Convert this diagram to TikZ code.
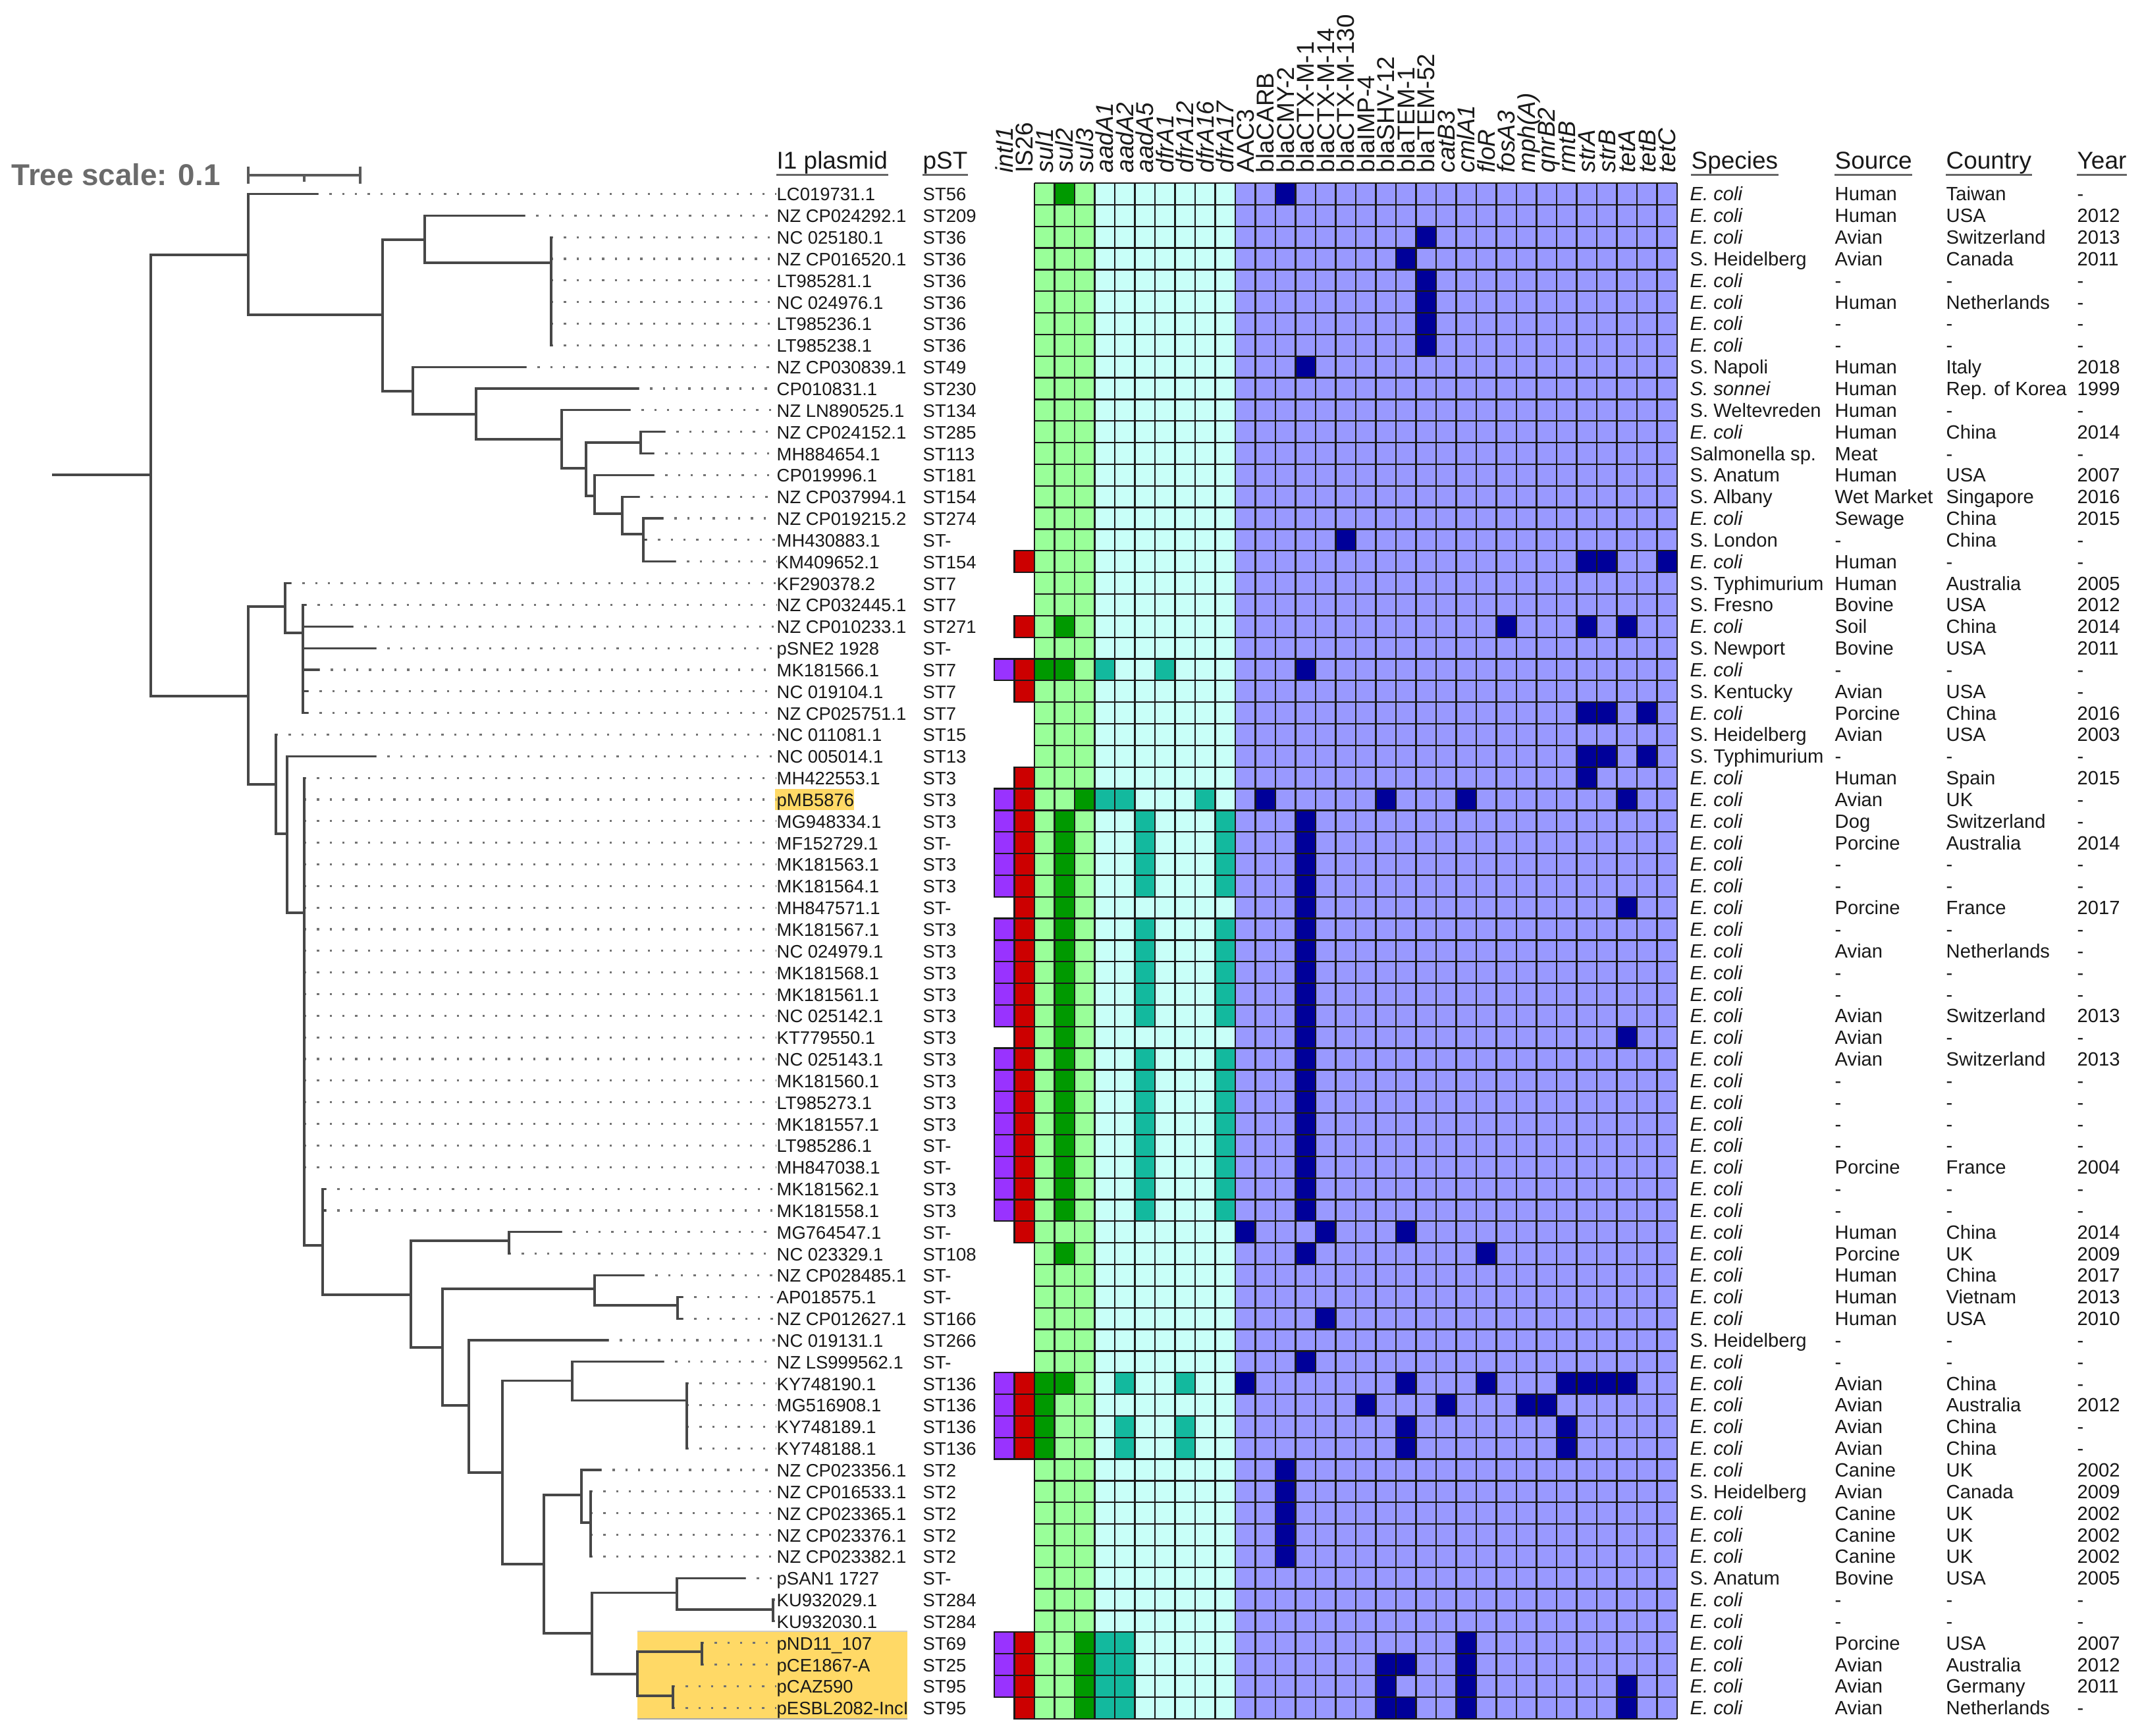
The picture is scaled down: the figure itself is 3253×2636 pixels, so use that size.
\documentclass[tikz,border=0pt]{standalone}
\usepackage{fontspec}
\setmainfont{Liberation Sans}
\definecolor{cPur}{HTML}{9933FF}
\definecolor{cRed}{HTML}{CC0000}
\definecolor{cLG}{HTML}{99FF99}
\definecolor{cDG}{HTML}{009900}
\definecolor{cLC}{HTML}{C8FFF8}
\definecolor{cTe}{HTML}{13B99E}
\definecolor{cLav}{HTML}{9999FF}
\definecolor{cNav}{HTML}{000099}
\definecolor{cYel}{HTML}{FFD966}
\newcommand{\RY}[1]{261.6+32.84*(#1)}
\newcommand{\ec}{\textit{E. coli}}
\newcommand{\hmc}[3]{\fill[#3] ({1510+(#2-1)*30.5},{278+(#1-1)*32.84}) rectangle ++(30.5,32.84);}
\newcommand{\hmb}[3]{\filldraw[fill=#3, draw=black!90, line width=0.65pt] ({1510+(#2-1)*30.5},{278+(#1-1)*32.84}) rectangle ++(30.5,32.84);}
\tikzset{
 trln/.style={draw=black!72, line width=0.9pt, line cap=rect},
 leadln/.style={draw=black!55, line width=0.9pt, dash pattern=on 0.9pt off 4.6pt},
 hmgrid/.style={draw=black!90, line width=0.65pt},
 rlab/.style={inner sep=0pt, anchor=base west, font=\fontsize{7.8}{9}\selectfont, text=black!90},
 metatx/.style={inner sep=0pt, anchor=base west, font=\fontsize{8.3}{10}\selectfont, text=black!90},
 hdrtx/.style={inner sep=0pt, anchor=base west, font=\fontsize{10.5}{12}\selectfont, text=black!90},
 genetx/.style={inner sep=0pt, anchor=base west, rotate=90, font=\fontsize{10.5}{12}\selectfont, text=black!90},
 uline/.style={draw=black!60, line width=0.8pt},
}
\begin{document}
\begin{tikzpicture}[x=0.01cm,y=-0.01cm]
\useasboundingbox (0,0) rectangle (3253,2636);
\fill[white] (0,0) rectangle (3253,2636);

% highlight boxes
\fill[cYel] (968,2477) rectangle (1378,2610);
\draw[draw=black!35, line width=0.5pt] (968,2610) -- (1378,2610);
\draw[draw=black!20, line width=0.4pt] (968,2477) -- (1378,2477);
\fill[cYel] (1177,1198) rectangle (1297,1230);

% tree scale
\node[inner sep=0pt, anchor=base west, font=\fontsize{13}{15}\selectfont\bfseries, text=black!58] (ts) at (17,281) {Tree scale: 0.1};
\coordinate (sbL) at (377,266);
\coordinate (sbR) at (547,266);
\coordinate (sbM) at (462,266);
\draw[draw=black!65, line width=0.9pt] (sbL) -- (sbR);
\draw[draw=black!65, line width=0.9pt] ([yshift=3.8pt]sbL) -- ([yshift=-3.8pt]sbL);
\draw[draw=black!65, line width=0.9pt] ([yshift=3.8pt]sbR) -- ([yshift=-3.8pt]sbR);
\draw[draw=black!65, line width=0.9pt] (sbM) -- ([yshift=-2.8pt]sbM);

% headers
\node[hdrtx] (h1) at (1179,256) {I1 plasmid};
\node[hdrtx] (h2) at (1401,256) {pST};
\node[hdrtx] (h3) at (2568,256) {Species};
\node[hdrtx] (h4) at (2786,256) {Source};
\node[hdrtx] (h5) at (2955,256) {Country};
\node[hdrtx] (h6) at (3154,256) {Year};
\foreach \h in {1,...,6} \draw[uline] ([yshift=-2.6pt]h\h.base west) -- ([yshift=-2.6pt]h\h.base east);

% gene labels
\foreach \g [count=\k] in {\textit{intI1},IS26,\textit{sul1},\textit{sul2},\textit{sul3},\textit{aadA1},\textit{aadA2},\textit{aadA5},\textit{dfrA1},\textit{dfrA12},\textit{dfrA16},\textit{dfrA17},AAC3,blaCARB,blaCMY-2,blaCTX-M-1,blaCTX-M-14,blaCTX-M-130,blaIMP-4,blaSHV-12,blaTEM-1,blaTEM-52,\textit{catB3},\textit{cmlA1},\textit{floR},\textit{fosA3},\textit{mph(A)},\textit{qnrB2},\textit{rmtB},\textit{strA},\textit{strB},\textit{tetA},\textit{tetB},\textit{tetC}}
  \node[genetx] (g\k) at ({1525.25+(\k-1)*30.5+13},263) {\g};

% heatmap backgrounds
\fill[cLG] (1571,278) rectangle (1662.5,2609.64);
\fill[cLC] (1662.5,278) rectangle (1876,2609.64);
\fill[cLav] (1876,278) rectangle (2547,2609.64);

% dark green
\foreach \r/\k in {1/4,21/4,23/3,23/4,29/5,50/4,56/3,56/4,57/3,58/3,59/3,68/5,69/5,70/5,71/5} {\hmc{\r}{\k}{cDG}}
\foreach \r in {30,...,48} {\hmc{\r}{4}{cDG}}
% teal
\foreach \r/\k in {23/6,23/9,29/6,29/7,29/11,56/7,56/10,58/7,58/10,59/7,59/10,68/6,68/7,69/6,69/7,70/6,70/7,71/6,71/7} {\hmc{\r}{\k}{cTe}}
\foreach \r in {30,31,32,33,35,36,37,38,39,41,42,43,44,45,46,47,48} {\hmc{\r}{8}{cTe}\hmc{\r}{12}{cTe}}
% navy
\foreach \r/\ks in {1/{15},3/{22},4/{21},5/{22},6/{22},7/{22},8/{22},9/{16},17/{18},18/{30,31,34},21/{26,30,32},23/{16},25/{30,31,33},27/{30,31,33},28/{30},29/{14,20,24,32},34/{32},40/{32},49/{13,17,21},50/{16,25},53/{17},55/{16},56/{13,21,25,29,30,31,32},57/{19,23,27,28},58/{21,29},59/{21,29},60/{15},61/{15},62/{15},63/{15},64/{15},68/{24},69/{20,21,24},70/{20,24,32},71/{20,21,24,32}} {\foreach \k in \ks {\hmc{\r}{\k}{cNav}}}
\foreach \r in {30,...,48} {\hmc{\r}{16}{cNav}}

% grid
\foreach \j in {0,...,32} \draw[hmgrid] ({1571+\j*30.5},278) -- ({1571+\j*30.5},2609.64);
\foreach \i in {0,...,71} \draw[hmgrid] (1571,{278+\i*32.84}) -- (2547,{278+\i*32.84});

% intI1 and IS26
\foreach \r in {23,29,30,31,32,33,35,36,37,38,39,41,42,43,44,45,46,47,48,56,57,58,59,68,69,70} {\hmb{\r}{1}{cPur}}
\foreach \r in {18,21,23,24,28,29,30,31,32,33,34,35,36,37,38,39,40,41,42,43,44,45,46,47,48,49,56,57,58,59,68,69,70,71} {\hmb{\r}{2}{cRed}}

% row labels
\foreach \lab/\st [count=\i] in {LC019731.1/ST56,NZ CP024292.1/ST209,NC 025180.1/ST36,NZ CP016520.1/ST36,LT985281.1/ST36,NC 024976.1/ST36,LT985236.1/ST36,LT985238.1/ST36,NZ CP030839.1/ST49,CP010831.1/ST230,NZ LN890525.1/ST134,NZ CP024152.1/ST285,MH884654.1/ST113,CP019996.1/ST181,NZ CP037994.1/ST154,NZ CP019215.2/ST274,MH430883.1/ST-,KM409652.1/ST154,KF290378.2/ST7,NZ CP032445.1/ST7,NZ CP010233.1/ST271,pSNE2 1928/ST-,MK181566.1/ST7,NC 019104.1/ST7,NZ CP025751.1/ST7,NC 011081.1/ST15,NC 005014.1/ST13,MH422553.1/ST3,pMB5876/ST3,MG948334.1/ST3,MF152729.1/ST-,MK181563.1/ST3,MK181564.1/ST3,MH847571.1/ST-,MK181567.1/ST3,NC 024979.1/ST3,MK181568.1/ST3,MK181561.1/ST3,NC 025142.1/ST3,KT779550.1/ST3,NC 025143.1/ST3,MK181560.1/ST3,LT985273.1/ST3,MK181557.1/ST3,LT985286.1/ST-,MH847038.1/ST-,MK181562.1/ST3,MK181558.1/ST3,MG764547.1/ST-,NC 023329.1/ST108,NZ CP028485.1/ST-,AP018575.1/ST-,NZ CP012627.1/ST166,NC 019131.1/ST266,NZ LS999562.1/ST-,KY748190.1/ST136,MG516908.1/ST136,KY748189.1/ST136,KY748188.1/ST136,NZ CP023356.1/ST2,NZ CP016533.1/ST2,NZ CP023365.1/ST2,NZ CP023376.1/ST2,NZ CP023382.1/ST2,pSAN1 1727/ST-,KU932029.1/ST284,KU932030.1/ST284,pND11\_107/ST69,pCE1867-A/ST25,pCAZ590/ST95,pESBL2082-IncI/ST95}
{
  \node[rlab] (l\i) at (1179,{\RY{\i}+10.5}) {\lab};
  \node[rlab] (st\i) at (1401,{\RY{\i}+10.5}) {\st};
}

% metadata
\foreach \sp/\so/\co/\yr [count=\i] in {\ec/Human/Taiwan/-,\ec/Human/USA/2012,\ec/Avian/Switzerland/2013,S. Heidelberg/Avian/Canada/2011,\ec/-/-/-,\ec/Human/Netherlands/-,\ec/-/-/-,\ec/-/-/-,S. Napoli/Human/Italy/2018,\textit{S. sonnei}/Human/Rep. of Korea/1999,S. Weltevreden/Human/-/-,\ec/Human/China/2014,Salmonella sp./Meat/-/-,S. Anatum/Human/USA/2007,S. Albany/Wet Market/Singapore/2016,\ec/Sewage/China/2015,S. London/-/China/-,\ec/Human/-/-,S. Typhimurium/Human/Australia/2005,S. Fresno/Bovine/USA/2012,\ec/Soil/China/2014,S. Newport/Bovine/USA/2011,\ec/-/-/-,S. Kentucky/Avian/USA/-,\ec/Porcine/China/2016,S. Heidelberg/Avian/USA/2003,S. Typhimurium/-/-/-,\ec/Human/Spain/2015,\ec/Avian/UK/-,\ec/Dog/Switzerland/-,\ec/Porcine/Australia/2014,\ec/-/-/-,\ec/-/-/-,\ec/Porcine/France/2017,\ec/-/-/-,\ec/Avian/Netherlands/-,\ec/-/-/-,\ec/-/-/-,\ec/Avian/Switzerland/2013,\ec/Avian/-/-,\ec/Avian/Switzerland/2013,\ec/-/-/-,\ec/-/-/-,\ec/-/-/-,\ec/-/-/-,\ec/Porcine/France/2004,\ec/-/-/-,\ec/-/-/-,\ec/Human/China/2014,\ec/Porcine/UK/2009,\ec/Human/China/2017,\ec/Human/Vietnam/2013,\ec/Human/USA/2010,S. Heidelberg/-/-/-,\ec/-/-/-,\ec/Avian/China/-,\ec/Avian/Australia/2012,\ec/Avian/China/-,\ec/Avian/China/-,\ec/Canine/UK/2002,S. Heidelberg/Avian/Canada/2009,\ec/Canine/UK/2002,\ec/Canine/UK/2002,\ec/Canine/UK/2002,S. Anatum/Bovine/USA/2005,\ec/-/-/-,\ec/-/-/-,\ec/Porcine/USA/2007,\ec/Avian/Australia/2012,\ec/Avian/Germany/2011,\ec/Avian/Netherlands/-}
{
  \node[metatx] (sp\i) at (2566,{\RY{\i}+10.5}) {\sp};
  \node[metatx] (so\i) at (2786,{\RY{\i}+10.5}) {\so};
  \node[metatx] (co\i) at (2955,{\RY{\i}+10.5}) {\co};
  \node[metatx] (yr\i) at (3154,{\RY{\i}+10.5}) {\yr};
}

% leaf tips
\foreach \i/\tx in {1/481,2/795,3/837,4/837,5/837,6/837,7/837,8/837,9/797,10/968,11/955,12/1008,13/991,14/991,15/969,16/1005,17/980,18/1024,19/440,20/463,21/534,22/569,23/483,24/466,25/466,26/419,27/569,47/493,48/493,49/851,50/773,51/976,52/1035,53/1035,54/922,55/1006,56/1043,57/1043,58/1043,59/1043,60/911,61/897,62/897,63/897,64/897,65/1130,66/1174,67/1174,68/1066,69/1066,70/1022,71/1022}
  \coordinate (t\i) at (\tx,{\RY{\i}});
\foreach \i in {28,...,46} \coordinate (t\i) at (462,{\RY{\i}});

% leaders
\foreach \i in {1,...,71} \draw[leadln] (t\i) -- (l\i.west |- t\i);

% tree: upper clade
\draw[trln] (81,721) -- (229,721);
\draw[trln] (229,387) -- (229,1057);
\draw[trln] (229,387) -- (377,387);
\draw[trln] (377,{\RY{1}}) -- (377,478);
\draw[trln] (377,{\RY{1}}) -- (t1);
\draw[trln] (377,478) -- (581,478);
\draw[trln] (581,364) -- (581,594);
\draw[trln] (581,364) -- (645,364);
\draw[trln] (645,{\RY{2}}) -- (645,399);
\draw[trln] (645,{\RY{2}}) -- (t2);
\draw[trln] (645,399) -- (837,399);
\draw[trln] (t3) -- (t8);
\draw[trln] (581,594) -- (627,594);
\draw[trln] (627,{\RY{9}}) -- (627,629);
\draw[trln] (627,{\RY{9}}) -- (t9);
\draw[trln] (627,629) -- (723,629);
\draw[trln] (723,{\RY{10}}) -- (723,667);
\draw[trln] (723,{\RY{10}}) -- (t10);
\draw[trln] (723,667) -- (853,667);
\draw[trln] (853,{\RY{11}}) -- (853,711);
\draw[trln] (853,{\RY{11}}) -- (t11);
\draw[trln] (853,711) -- (890,711);
\draw[trln] (890,672) -- (890,753);
\draw[trln] (890,672) -- (973,672);
\draw[trln] (973,{\RY{12}}) -- (973,{\RY{13}});
\draw[trln] (973,{\RY{12}}) -- (t12);
\draw[trln] (973,{\RY{13}}) -- (t13);
\draw[trln] (890,753) -- (903,753);
\draw[trln] (903,{\RY{14}}) -- (903,780);
\draw[trln] (903,{\RY{14}}) -- (t14);
\draw[trln] (903,780) -- (945,780);
\draw[trln] (945,{\RY{15}}) -- (945,811);
\draw[trln] (945,{\RY{15}}) -- (t15);
\draw[trln] (945,811) -- (977,811);
\draw[trln] (977,{\RY{16}}) -- (977,{\RY{18}});
\draw[trln] (977,{\RY{16}}) -- (t16);
\draw[trln] (977,{\RY{17}}) -- (t17);
\draw[trln] (977,{\RY{18}}) -- (t18);

% tree: lower clade
\draw[trln] (229,1057) -- (377,1057);
\draw[trln] (377,921) -- (377,1191);
\draw[trln] (377,921) -- (433,921);
\draw[trln] (433,{\RY{19}}) -- (433,961);
\draw[trln] (433,{\RY{19}}) -- (t19);
\draw[trln] (433,961) -- (460,961);
\draw[trln] (460,{\RY{20}}) -- (460,{\RY{25}});
\foreach \i in {20,...,25} \draw[trln] (460,{\RY{\i}}) -- (t\i);
\draw[trln] (377,1191) -- (419,1191);
\draw[trln] (t26) -- (419,1266);
\draw[trln] (419,1266) -- (436,1266);
\draw[trln] (436,{\RY{27}}) -- (436,1386);
\draw[trln] (436,{\RY{27}}) -- (t27);
\draw[trln] (436,1386) -- (462,1386);
\draw[trln] (t28) -- (462,1891);
\draw[trln] (462,1891) -- (490,1891);
\draw[trln] (490,{\RY{47}}) -- (490,1966);
\draw[trln] (490,{\RY{47}}) -- (t47);
\draw[trln] (490,{\RY{48}}) -- (t48);
\draw[trln] (490,1966) -- (624,1966);
\draw[trln] (624,1884) -- (624,2046);
\draw[trln] (624,1884) -- (773,1884);
\draw[trln] (773,{\RY{49}}) -- (t50);
\draw[trln] (773,{\RY{49}}) -- (t49);
\draw[trln] (624,2046) -- (672,2046);
\draw[trln] (672,1957) -- (672,2134);
\draw[trln] (672,1957) -- (903,1957);
\draw[trln] (903,{\RY{51}}) -- (903,1982);
\draw[trln] (903,{\RY{51}}) -- (t51);
\draw[trln] (903,1982) -- (1029,1982);
\draw[trln] (1029,{\RY{52}}) -- (1029,{\RY{53}});
\draw[trln] (1029,{\RY{52}}) -- (t52);
\draw[trln] (1029,{\RY{53}}) -- (t53);
\draw[trln] (672,2134) -- (712,2134);
\draw[trln] (712,{\RY{54}}) -- (712,2236);
\draw[trln] (712,{\RY{54}}) -- (t54);
\draw[trln] (712,2236) -- (763,2236);
\draw[trln] (763,2096.5) -- (763,2375);
\draw[trln] (763,2096.5) -- (869,2096.5);
\draw[trln] (869,{\RY{55}}) -- (869,2126.6);
\draw[trln] (869,{\RY{55}}) -- (t55);
\draw[trln] (869,2126.6) -- (1043,2126.6);
\draw[trln] (t56) -- (t59);
\draw[trln] (763,2375) -- (826,2375);
\draw[trln] (826,2270) -- (826,2480);
\draw[trln] (826,2270) -- (883,2270);
\draw[trln] (883,{\RY{60}}) -- (883,2312);
\draw[trln] (883,{\RY{60}}) -- (t60);
\draw[trln] (883,2312) -- (897,2312);
\draw[trln] (t61) -- (t64);
\draw[trln] (826,2480) -- (899,2480);
\draw[trln] (899,2418.5) -- (899,2542);
\draw[trln] (899,2418.5) -- (1028,2418.5);
\draw[trln] (1028,{\RY{65}}) -- (1028,2444);
\draw[trln] (1028,{\RY{65}}) -- (t65);
\draw[trln] (1028,2444) -- (1174,2444);
\draw[trln] (t66) -- (t67);
\draw[trln] (899,2542) -- (968,2542);
\draw[trln] (968,2508) -- (968,2575);
\draw[trln] (968,2508) -- (1066,2508);
\draw[trln] (t68) -- (t69);
\draw[trln] (968,2575) -- (1022,2575);
\draw[trln] (t70) -- (t71);
\end{tikzpicture}
\end{document}
